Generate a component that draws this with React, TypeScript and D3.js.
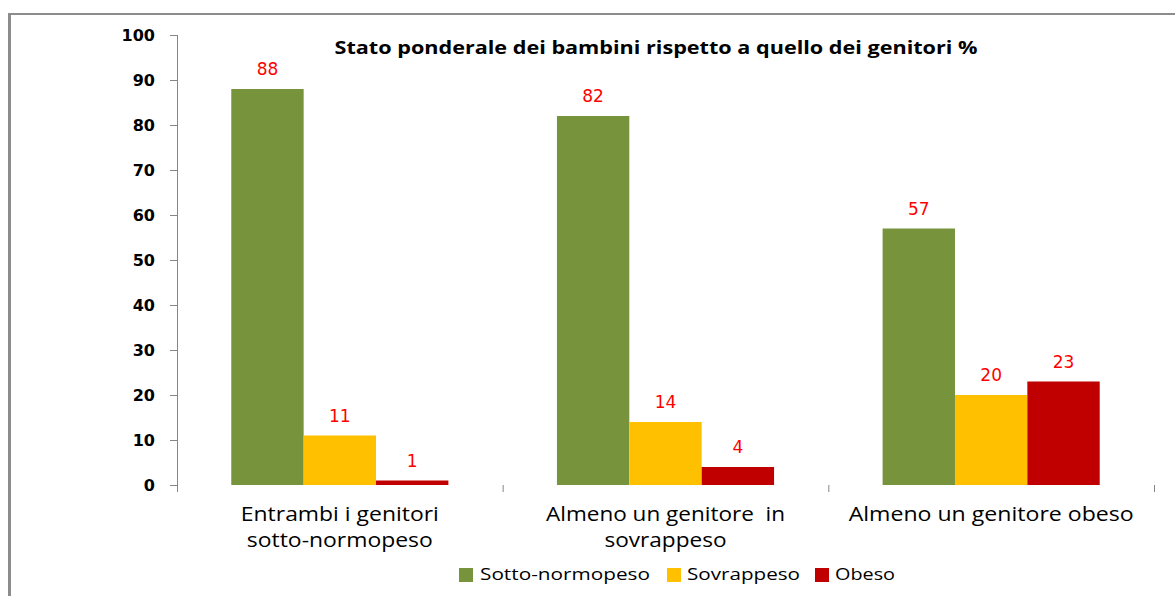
import React from "react";
import * as d3 from "d3";

const categories = [
  ["Entrambi i genitori", "sotto-normopeso"],
  ["Almeno un genitore  in", "sovrappeso"],
  ["Almeno un genitore obeso"],
];
const seriesNames = ["Sotto-normopeso", "Sovrappeso", "Obeso"];
const seriesColors = ["#77933C", "#FFC000", "#C00000"];
const sottoNormopeso = [88, 82, 57];
const sovrappeso = [11, 14, 20];
const obeso = [1, 4, 23];
const yTicks = [0, 10, 20, 30, 40, 50, 60, 70, 80, 90, 100];
const title = "Stato ponderale dei bambini rispetto a quello dei genitori %";

const W = 1175;
const H = 596;
const plotLeft = 177;
const plotRight = 1154;
const plotTop = 35;
const plotBottom = 485;

export default function App() {
  const series = [sottoNormopeso, sovrappeso, obeso];
  const x0 = d3
    .scaleBand<number>()
    .domain(categories.map((_, i) => i))
    .range([plotLeft, plotRight])
    .paddingInner(0)
    .paddingOuter(0);
  const groupW = x0.bandwidth();
  const barW = groupW / (3 + 1.5);
  const x1 = d3
    .scaleBand<number>()
    .domain([0, 1, 2])
    .range([(groupW - 3 * barW) / 2, (groupW + 3 * barW) / 2]);
  const y = d3.scaleLinear().domain([0, 100]).range([plotBottom, plotTop]);

  const boundaries = d3.range(categories.length + 1).map((i) => plotLeft + i * groupW);

  const legendItems = [
    { sx: 459, tx: 480, tw: 170 },
    { sx: 667, tx: 687, tw: 113 },
    { sx: 815, tx: 835, tw: 60 },
  ];
  const catWidths = [
    [198, 186],
    [239, 122],
    [285],
  ];

  return (
    <svg
      width={W}
      height={H}
      style={{ position: "absolute", left: 0, top: 0, background: "#fff" }}
      fontFamily="'Open Sans', sans-serif"
    >
      <rect x={0} y={0} width={W} height={H} fill="#fff" />
      {/* frame */}
      <line x1={9.5} y1={13} x2={9.5} y2={H} stroke="#8c8c8c" strokeWidth={3} />
      <line x1={8} y1={14} x2={W} y2={14} stroke="#8c8c8c" strokeWidth={2} />

      {/* title */}
      <text
        x={656}
        y={54}
        textAnchor="middle"
        fontSize={17}
        fontWeight="bold"
        fill="#000"
        textLength={643}
        lengthAdjust="spacingAndGlyphs"
      >
        {title}
      </text>

      {/* y axis */}
      <line x1={plotLeft + 0.5} y1={plotTop} x2={plotLeft + 0.5} y2={plotBottom + 7} stroke="#868686" strokeWidth={1} />
      {yTicks.map((t) => (
        <g key={t}>
          <line x1={plotLeft - 7} y1={y(t) + 0.5} x2={plotLeft} y2={y(t) + 0.5} stroke="#868686" />
          <text
            x={155}
            y={y(t) + 6}
            textAnchor="end"
            fontSize={16}
            fontWeight="bold"
            fontFamily="'DejaVu Sans', sans-serif"
            fill="#000"
          >
            {t}
          </text>
        </g>
      ))}
      {/* category boundary ticks */}
      {boundaries.slice(1).map((bx, i) => (
        <line key={i} x1={bx + 0.5} y1={plotBottom} x2={bx + 0.5} y2={plotBottom + 7} stroke="#868686" />
      ))}

      {/* bars */}
      {categories.map((_, ci) => (
        <g key={ci} transform={`translate(${x0(ci)},0)`}>
          {series.map((s, si) => (
            <g key={si}>
              <rect
                x={x1(si)}
                y={y(s[ci])}
                width={x1.bandwidth()}
                height={plotBottom - y(s[ci])}
                fill={seriesColors[si]}
              />
              <text
                x={(x1(si) as number) + x1.bandwidth() / 2}
                y={y(s[ci]) - 14}
                textAnchor="middle"
                fontSize={17}
                fontFamily="'DejaVu Sans', sans-serif"
                fill="#FF0000"
              >
                {s[ci]}
              </text>
            </g>
          ))}
        </g>
      ))}

      {/* category labels */}
      {categories.map((lines, ci) => (
        <text
          key={ci}
          textAnchor="middle"
          fontSize={20}
          fill="#000"
          xmlSpace="preserve"
          style={{ whiteSpace: "pre" }}
        >
          {lines.map((l, li) => (
            <tspan
              key={li}
              x={(x0(ci) as number) + groupW / 2}
              y={521 + li * 26}
              textLength={catWidths[ci][li]}
              lengthAdjust="spacingAndGlyphs"
            >
              {l}
            </tspan>
          ))}
        </text>
      ))}

      {/* legend */}
      {seriesNames.map((n, i) => (
        <g key={n}>
          <rect x={legendItems[i].sx} y={568} width={14} height={14} fill={seriesColors[i]} />
          <text
            x={legendItems[i].tx}
            y={580}
            fontSize={17}
            fill="#000"
            textLength={legendItems[i].tw}
            lengthAdjust="spacingAndGlyphs"
          >
            {n}
          </text>
        </g>
      ))}
    </svg>
  );
}
